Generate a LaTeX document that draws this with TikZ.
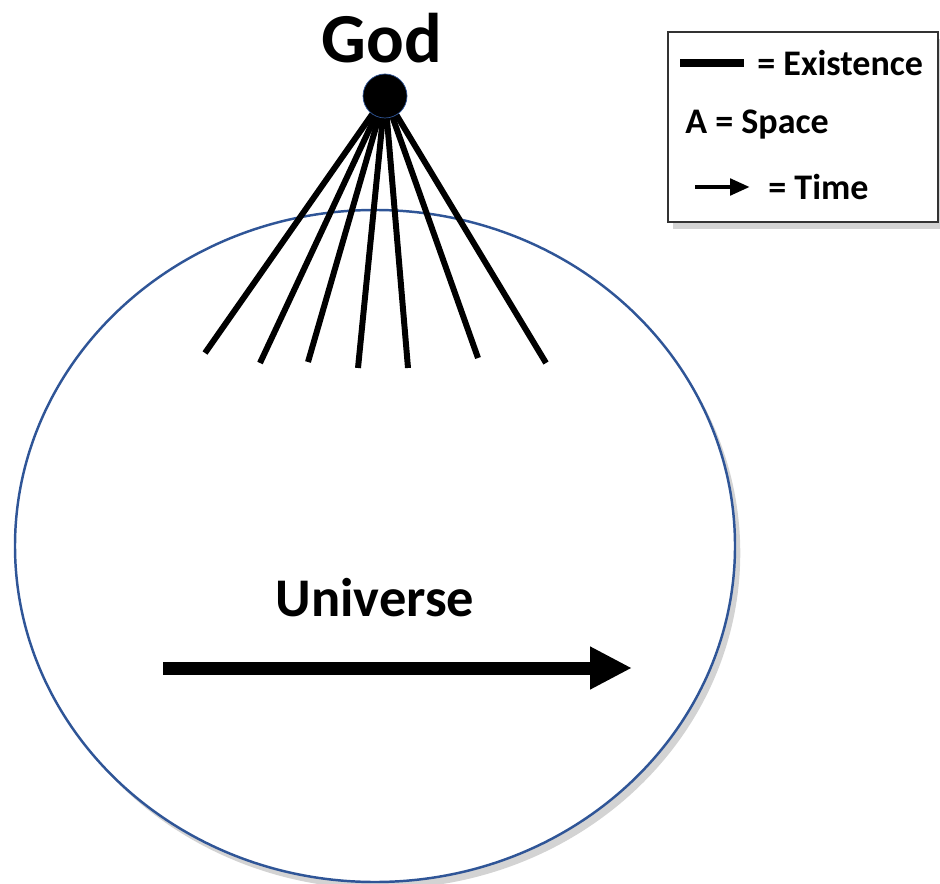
\documentclass[tikz,border=0pt]{standalone}
\usepackage{fontspec}
\setmainfont{Carlito}
\usetikzlibrary{arrows.meta,shadows}
\definecolor{rimblue}{HTML}{2F5597}

\begin{document}
\begin{tikzpicture}[
  ray/.style={line width=3.4pt},
  shade/.style={drop shadow={opacity=0.35, shadow xshift=3pt, shadow yshift=-4pt}},
  txt/.style={font=\bfseries, inner sep=0pt},
  keytxt/.style={txt, anchor=west, font=\bfseries\fontsize{20.5}{24}\selectfont},
  scale=1
]
\useasboundingbox (0,0) rectangle (18.8,-17.68);

% ==================
% Universe
% ==================
\path[draw=rimblue, line width=1.4pt, fill=white, shade] (7.5,-10.92) ellipse [x radius=7.2, y radius=6.72];
\node[txt, font=\bfseries\fontsize{31}{36}\selectfont] (univ) at (7.5,-11.96) {Universe};

\coordinate (t0) at (3.26,-13.36);
\coordinate (t1) at (12.64,-13.36);
\draw[line width=7.4pt, -{Triangle[length=0.84cm, width=0.8cm]}] (t0) -- (t1);

% ==================
% Existence rays
% ==================
\coordinate (r1) at (4.1,-7.06);
\coordinate (r2) at (5.2,-7.26);
\coordinate (r3) at (6.16,-7.24);
\coordinate (r4) at (7.16,-7.36);
\coordinate (r5) at (8.16,-7.36);
\coordinate (r6) at (9.56,-7.16);
\coordinate (r7) at (10.92,-7.26);

\node[circle, inner sep=0pt, minimum size=0.88cm] (god) at (7.7,-1.92) {};

\draw[ray] (god.center) -- (r1);
\draw[ray] (god.center) -- (r2);
\draw[ray] (god.center) -- (r3);
\draw[ray] (god.center) -- (r4);
\draw[ray] (god.center) -- (r5);
\draw[ray] (god.center) -- (r6);
\draw[ray] (god.center) -- (r7);

% ==================
% God
% ==================
\node[circle, draw=rimblue, fill=black, line width=0.4pt, inner sep=0pt, minimum size=0.88cm] at (god) {};
\node[txt, font=\bfseries\fontsize{40}{46}\selectfont] (godlbl) at (7.64,-0.76) {God};

% ==================
% Legend
% ==================
\path[draw=black!80, line width=0.6pt, fill=white, shade] (13.36,-0.64) rectangle (18.76,-4.44);

\coordinate (ex0) at (13.6,-1.26);
\coordinate (ex1) at (14.88,-1.26);
\draw[line width=4.5pt] (ex0) -- (ex1);
\node[keytxt] (exlbl) at (15.14,-1.26) {= Existence};

\node[keytxt] (splbl) at (13.7,-2.5) {A = Space};

\coordinate (tm0) at (13.9,-3.74);
\coordinate (tm1) at (15.0,-3.74);
\draw[line width=2.8pt, -{Triangle[length=0.4cm, width=0.32cm]}] (tm0) -- (tm1);
\node[keytxt] (tmlbl) at (15.36,-3.74) {= Time};
\end{tikzpicture}
\end{document}
